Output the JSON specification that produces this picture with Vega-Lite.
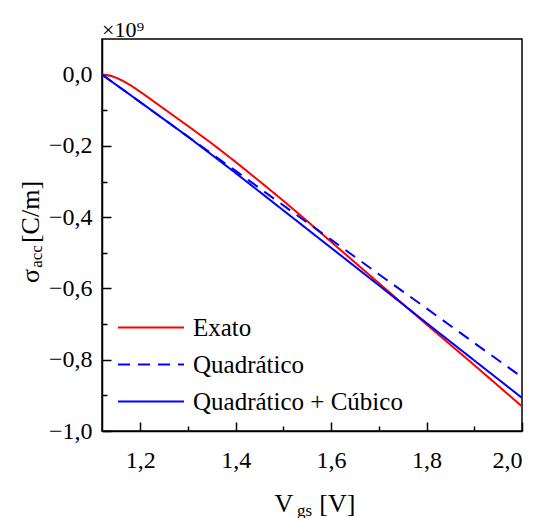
{
  "$schema": "https://vega.github.io/schema/vega-lite/v6.json",
  "width": 420,
  "height": 392,
  "autosize": {"type": "none"},
  "padding": {"left": 102, "top": 39, "right": 14, "bottom": 87},
  "background": "white",
  "config": {
    "view": {"stroke": "black", "strokeWidth": 1.5},
    "axis": {"grid": false, "domainColor": "black", "domainWidth": 1.5, "tickColor": "black", "tickWidth": 1.5, "labelColor": "black", "titleColor": "black", "titleFont": "Liberation Serif", "labelFont": "Liberation Serif", "titleFontWeight": "normal"}
  },
  "title": {"text": "×10⁹", "anchor": "start", "frame": "group", "orient": "top", "offset": 7, "dy": 27, "baseline": "alphabetic", "fontSize": 22, "font": "Liberation Serif", "fontWeight": "normal", "color": "black"},
  "data": {"values": [
    {"series": "Exato", "vgs": 1.12, "sigma": 0},
    {"series": "Exato", "vgs": 1.13, "sigma": -0.001},
    {"series": "Exato", "vgs": 1.14, "sigma": -0.004},
    {"series": "Exato", "vgs": 1.15, "sigma": -0.009},
    {"series": "Exato", "vgs": 1.16, "sigma": -0.015},
    {"series": "Exato", "vgs": 1.18, "sigma": -0.030},
    {"series": "Exato", "vgs": 1.20, "sigma": -0.048},
    {"series": "Exato", "vgs": 1.22, "sigma": -0.067},
    {"series": "Exato", "vgs": 1.25, "sigma": -0.096},
    {"series": "Exato", "vgs": 1.30, "sigma": -0.144},
    {"series": "Exato", "vgs": 1.35, "sigma": -0.193},
    {"series": "Exato", "vgs": 1.40, "sigma": -0.245},
    {"series": "Exato", "vgs": 1.45, "sigma": -0.299},
    {"series": "Exato", "vgs": 1.50, "sigma": -0.354},
    {"series": "Exato", "vgs": 1.55, "sigma": -0.411},
    {"series": "Exato", "vgs": 1.60, "sigma": -0.469},
    {"series": "Exato", "vgs": 1.65, "sigma": -0.527},
    {"series": "Exato", "vgs": 1.70, "sigma": -0.585},
    {"series": "Exato", "vgs": 1.75, "sigma": -0.643},
    {"series": "Exato", "vgs": 1.80, "sigma": -0.701},
    {"series": "Exato", "vgs": 1.85, "sigma": -0.758},
    {"series": "Exato", "vgs": 1.90, "sigma": -0.815},
    {"series": "Exato", "vgs": 1.95, "sigma": -0.873},
    {"series": "Exato", "vgs": 2.00, "sigma": -0.931},
    {"series": "Quadrático", "vgs": 1.12, "sigma": 0},
    {"series": "Quadrático", "vgs": 1.20, "sigma": -0.077},
    {"series": "Quadrático", "vgs": 1.30, "sigma": -0.174},
    {"series": "Quadrático", "vgs": 1.40, "sigma": -0.270},
    {"series": "Quadrático", "vgs": 1.50, "sigma": -0.367},
    {"series": "Quadrático", "vgs": 1.60, "sigma": -0.463},
    {"series": "Quadrático", "vgs": 1.70, "sigma": -0.560},
    {"series": "Quadrático", "vgs": 1.80, "sigma": -0.656},
    {"series": "Quadrático", "vgs": 1.90, "sigma": -0.753},
    {"series": "Quadrático", "vgs": 2.00, "sigma": -0.849},
    {"series": "Quadrático + Cúbico", "vgs": 1.12, "sigma": 0},
    {"series": "Quadrático + Cúbico", "vgs": 1.20, "sigma": -0.077},
    {"series": "Quadrático + Cúbico", "vgs": 1.30, "sigma": -0.174},
    {"series": "Quadrático + Cúbico", "vgs": 1.40, "sigma": -0.276},
    {"series": "Quadrático + Cúbico", "vgs": 1.50, "sigma": -0.381},
    {"series": "Quadrático + Cúbico", "vgs": 1.60, "sigma": -0.486},
    {"series": "Quadrático + Cúbico", "vgs": 1.70, "sigma": -0.591},
    {"series": "Quadrático + Cúbico", "vgs": 1.80, "sigma": -0.697},
    {"series": "Quadrático + Cúbico", "vgs": 1.90, "sigma": -0.802},
    {"series": "Quadrático + Cúbico", "vgs": 2.00, "sigma": -0.907}
  ]},
  "layer": [
    {
      "mark": {"type": "line", "strokeWidth": 2, "clip": true},
      "encoding": {
        "x": {"field": "vgs", "type": "quantitative",
          "scale": {"domain": [1.12, 2.0], "nice": false, "zero": false},
          "axis": {"orient": "bottom", "values": [1.2, 1.4, 1.6, 1.8, 2.0], "tickSize": -9, "labelPadding": 26, "labelFontSize": 24,
            "labelExpr": "replace(format(datum.value, '.1f'), '.', ',')",
            "title": "V\u00a0\u00a0\u00a0\u00a0[V]", "titleFontSize": 26, "titleX": 212.5, "titleY": 80.7, "titleAlign": "center", "titleBaseline": "alphabetic"}},
        "y": {"field": "sigma", "type": "quantitative",
          "scale": {"domain": [-1.0, 0.1], "nice": false, "zero": false},
          "axis": {"orient": "left", "values": [-1.0, -0.8, -0.6, -0.4, -0.2, 0.0], "tickSize": -9, "labelPadding": 19, "labelFontSize": 24,
            "labelExpr": "replace(format(datum.value, '.1f'), '.', ',')",
            "title": "σ\u00a0\u00a0\u00a0\u00a0[C/m]", "titleFontSize": 26, "titleAngle": 270, "titleX": -64, "titleY": 192.5, "titleAlign": "center", "titleBaseline": "alphabetic"}},
        "color": {"field": "series", "type": "nominal",
          "scale": {"domain": ["Exato", "Quadrático", "Quadrático + Cúbico"], "range": ["#ff0000", "#0000ff", "#0000ff"]},
          "legend": {"title": null, "orient": "none", "legendX": 15, "legendY": 270, "symbolType": "stroke", "symbolSize": 4356, "symbolStrokeWidth": 2, "rowPadding": 0, "clipHeight": 37, "labelOffset": 8, "labelFontSize": 25, "labelFont": "Liberation Serif", "labelColor": "black", "padding": 0, "labelLimit": 400}},
        "strokeDash": {"field": "series", "type": "nominal",
          "scale": {"domain": ["Exato", "Quadrático", "Quadrático + Cúbico"], "range": [[1, 0], [12, 8], [1, 0]]},
          "legend": {"title": null, "orient": "none", "legendX": 15, "legendY": 270, "symbolType": "stroke", "symbolSize": 4356, "symbolStrokeWidth": 2, "rowPadding": 0, "clipHeight": 37, "labelOffset": 8, "labelFontSize": 25, "labelFont": "Liberation Serif", "labelColor": "black", "padding": 0, "labelLimit": 400}}
      }
    },
    {
      "mark": {"type": "line", "opacity": 0},
      "encoding": {
        "x": {"field": "vgs", "type": "quantitative",
          "scale": {"domain": [1.12, 2.0], "nice": false, "zero": false},
          "axis": {"orient": "bottom", "values": [1.3, 1.5, 1.7, 1.9], "tickSize": -5, "labels": false, "domain": false,
            "title": "gs", "titleFontSize": 17, "titleX": 202, "titleY": 84, "titleAlign": "center", "titleBaseline": "alphabetic"}},
        "y": {"field": "sigma", "type": "quantitative",
          "scale": {"domain": [-1.0, 0.1], "nice": false, "zero": false},
          "axis": {"orient": "left", "values": [-0.9, -0.7, -0.5, -0.3, -0.1], "tickSize": -5, "labels": false, "domain": false,
            "title": "acc", "titleFontSize": 17, "titleAngle": 270, "titleX": -61, "titleY": 217, "titleAlign": "center", "titleBaseline": "alphabetic"}},
        "detail": {"field": "series", "type": "nominal"}
      }
    }
  ],
  "resolve": {"axis": {"x": "independent", "y": "independent"}}
}
